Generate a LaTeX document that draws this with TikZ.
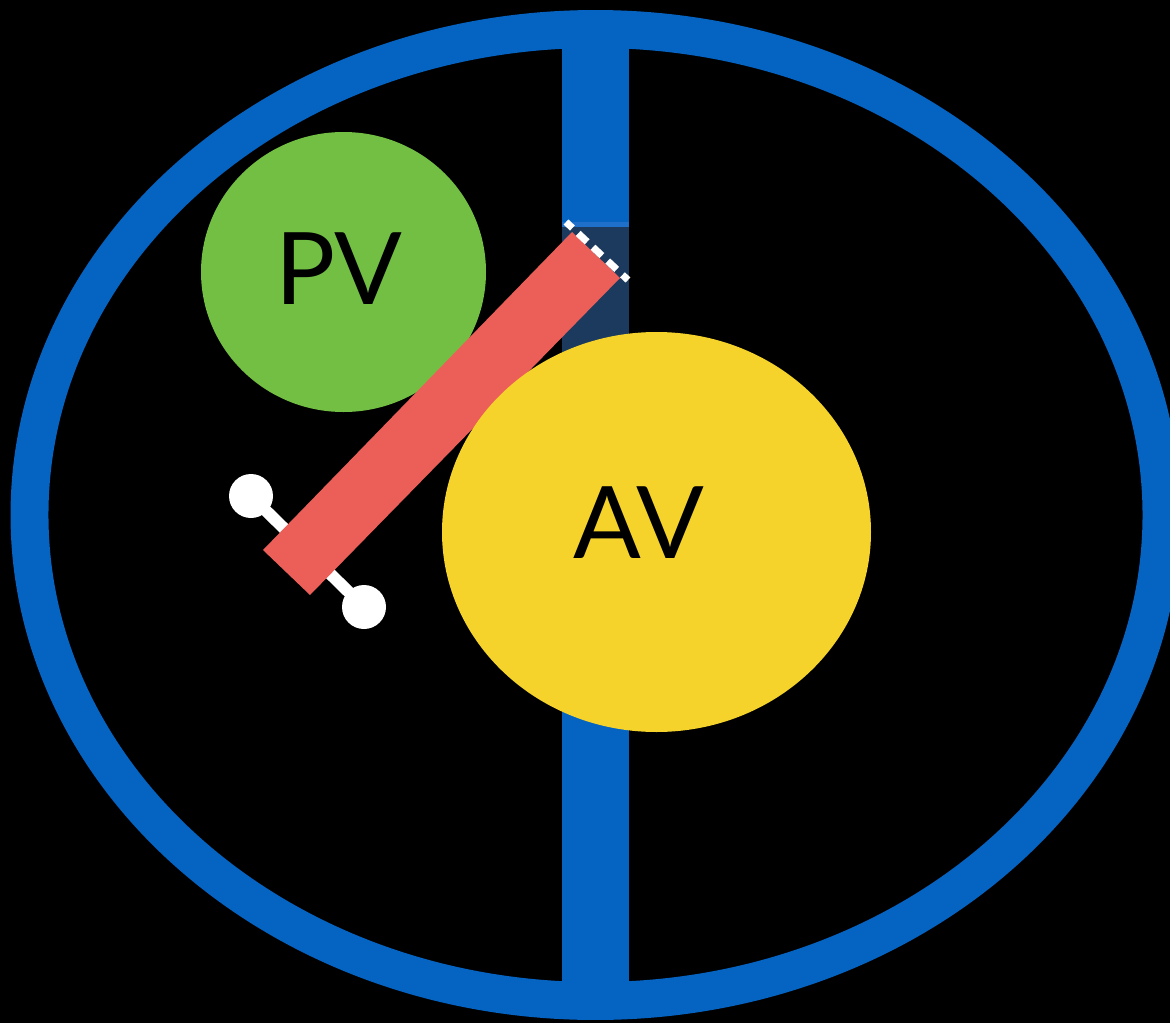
\documentclass[tikz,border=0pt]{standalone}
\usepackage{fontspec}
\setmainfont{Lato}
\usetikzlibrary{calc}
\definecolor{ringblue}{HTML}{0563C1}
\definecolor{bandblue}{HTML}{1F70CB}
\definecolor{shadenavy}{HTML}{1B3A5E}
\definecolor{pvgreen}{HTML}{72BF44}
\definecolor{avyellow}{HTML}{F6D32A}
\definecolor{leafred}{HTML}{EC5F59}

\begin{document}
\begin{tikzpicture}[x=0.2mm, y=-0.2mm]
    \useasboundingbox (0,0) rectangle (1170,1023);
    \fill[black] (0,0) rectangle (1170,1023);
    \clip (0,0) rectangle (1170,1023);
    \coordinate (O) at (595.5,515); \coordinate (PV) at (343.5,272); \coordinate (AV) at (656.5,532);
    % outer ring and septum
    \draw[ringblue, line width=21.6pt] (O) ellipse (566 and 486);
    \fill[ringblue] (562,20) rectangle (629,1010);
    \fill[bandblue] (562,222) rectangle (629,227);
    \fill[shadenavy] (562,227) rectangle (629,420);
    \fill[pvgreen] (PV) ellipse (142.5 and 140);
    % hinge of the leaflet
    \coordinate (hingeA) at (251,496); \coordinate (hingeB) at (364,607);
    \draw[white, line width=6.8pt] (hingeA)--(hingeB);
    \foreach \p in {hingeA,hingeB} {\fill[white] (\p) circle (22);}
    % leaflet
    \coordinate (L1) at (572,232); \coordinate (L2) at (620,278);
    \coordinate (L3) at (310,595); \coordinate (L4) at (263,550);
    \fill[leafred] (L1)--(L2)--(L3)--(L4)--cycle;
    \coordinate (tipA) at ($(L1)+(-6,-10)$); \coordinate (tipB) at ($(L2)+(8,2)$);
    \draw[white, line width=4pt, dash pattern=on 7pt off 4.5pt, dash phase=2pt] (tipA)--(tipB);
    \fill[avyellow] (AV) ellipse (214.5 and 200);
    \node[font=\fontsize{57}{57}\selectfont] (pvlabel) at (339,269) {PV};
    \node[font=\fontsize{57}{57}\selectfont] (avlabel) at (639,523) {AV};
\end{tikzpicture}
\end{document}
